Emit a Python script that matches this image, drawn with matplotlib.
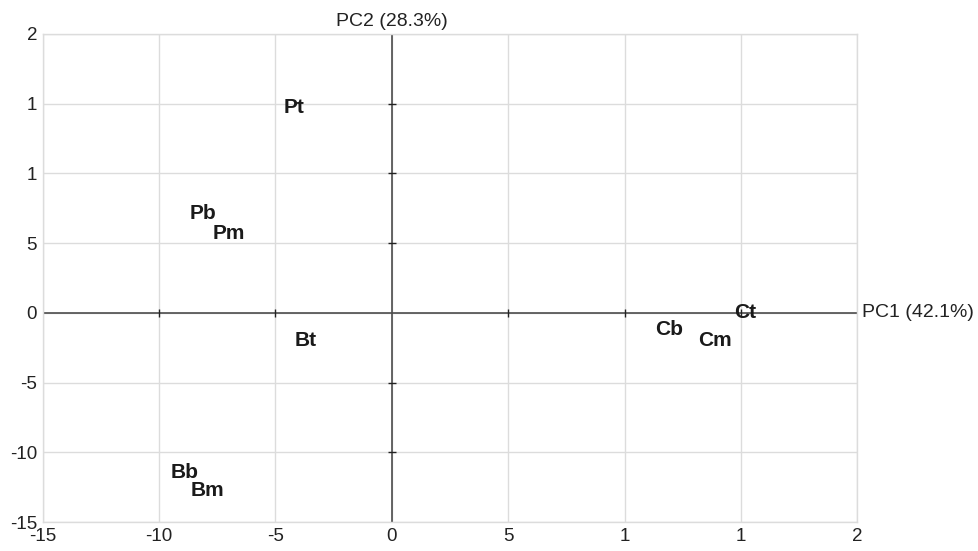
import matplotlib.pyplot as plt

plt.rcParams['font.family'] = ['Liberation Sans', 'DejaVu Sans']

# sample scores on the first two components
labels = ['Pt', 'Pb', 'Pm', 'Bt', 'Bb', 'Bm', 'Cb', 'Cm', 'Ct']
pc1 = [-4.2, -8.1, -7.0, -3.7, -8.9, -7.9, 11.9, 13.9, 15.2]
pc2 = [14.7, 7.1, 5.7, -2.0, -11.4, -12.7, -1.2, -2.0, 0.0]

xticks = [-15, -10, -5, 0, 5, 10, 15, 20]
xticklabels = ['-15', '-10', '-5', '0', '5', '1', '1', '2']
yticks = [-15, -10, -5, 0, 5, 10, 15, 20]
yticklabels = ['-15', '-10', '-5', '0', '5', '1', '1', '2']

fig = plt.figure(figsize=(9.79, 5.51), dpi=100)
ax = fig.add_axes([0.0436, 0.0521, 0.8321, 0.8867])

ax.set_xlim(-15, 20)
ax.set_ylim(-15, 20)
ax.set_xticks(xticks)
ax.set_xticklabels(xticklabels)
ax.set_yticks(yticks)
ax.set_yticklabels(yticklabels)
ax.tick_params(length=0, labelsize=13.5, colors='#222222', pad=4)
ax.grid(True, color='#dcdcdc', linewidth=1)
ax.set_axisbelow(True)
for s in ax.spines.values():
    s.set_color('#dcdcdc')
    s.set_linewidth(1)

# the two axes through the origin, with little ticks
ax.axhline(0, color='#4d4d4d', linewidth=1.2, zorder=2)
ax.axvline(0, color='#4d4d4d', linewidth=1.2, zorder=2)
xt = [t for t in xticks[1:-1] if t != 0]
yt = [t for t in yticks[1:-1] if t != 0]
ax.plot(xt, [0] * len(xt), ls='none', marker='|', ms=6, mew=1, color='#222222', zorder=3)
ax.plot([0] * len(yt), yt, ls='none', marker='_', ms=6, mew=1, color='#222222', zorder=3)

for lab, x, y in zip(labels, pc1, pc2):
    ax.text(x, y, lab, ha='center', va='center', fontsize=15,
            fontweight='bold', color='#1a1a1a', zorder=4)

ax.text(0, 20.3, 'PC2 (28.3%)', ha='center', va='bottom', fontsize=14, color='#222222')
ax.text(20.2, 0, 'PC1 (42.1%)', ha='left', va='center', fontsize=14, color='#222222')

fig.savefig('out.png', dpi=100)
